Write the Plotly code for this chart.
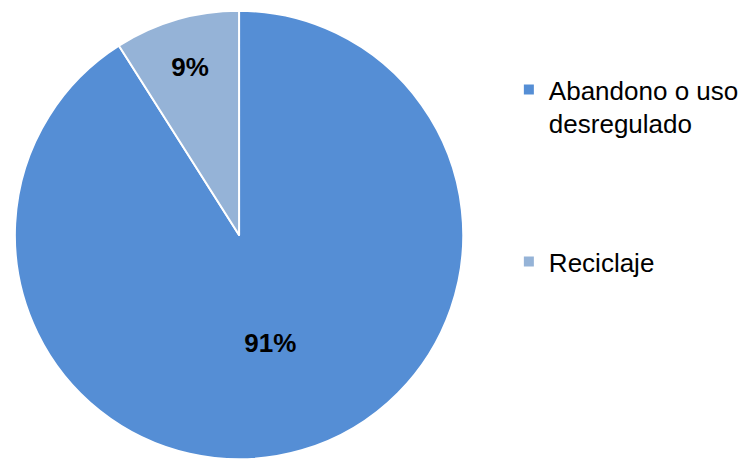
import plotly.graph_objects as go

categories = ["Abandono o uso desregulado", "Reciclaje"]
values = [91, 9]
legend_labels = ["Abandono o uso<br>desregulado<br><br><br>", "Reciclaje"]
colors = ["#558ED5", "#95B3D7"]

W, H = 744, 462

fig = go.Figure(
    go.Pie(
        labels=legend_labels,
        values=values,
        customdata=categories,
        sort=False,
        direction="clockwise",
        rotation=0,
        marker=dict(colors=colors, line=dict(color="white", width=2)),
        texttemplate="<b>%{percent:.0%}</b>",
        textposition="inside",
        insidetextorientation="horizontal",
        textfont=dict(family="Arial, Liberation Sans", size=26, color="black"),
        domain=dict(x=[15 / W, 467 / W], y=[1 - 461 / H, 1 - 9 / H]),
        hovertemplate="%{customdata}: %{percent}<extra></extra>",
    )
)

fig.update_layout(
    width=W,
    height=H,
    margin=dict(l=0, r=0, t=0, b=0),
    paper_bgcolor="white",
    plot_bgcolor="white",
    font=dict(family="Arial, Liberation Sans", size=26, color="black"),
    showlegend=True,
    legend=dict(
        x=513 / W,
        y=1 - 66 / H,
        xanchor="left",
        yanchor="top",
        valign="top",
        font=dict(size=26, family="Arial, Liberation Sans", color="black"),
        bgcolor="rgba(0,0,0,0)",
    ),
)

fig.write_html(
    "out.html",
    config={"displayModeBar": False},
    post_script=(
        "document.body.style.margin='0';"
        "document.body.style.overflow='hidden';"
        "document.documentElement.style.overflow='hidden';"
    ),
)
